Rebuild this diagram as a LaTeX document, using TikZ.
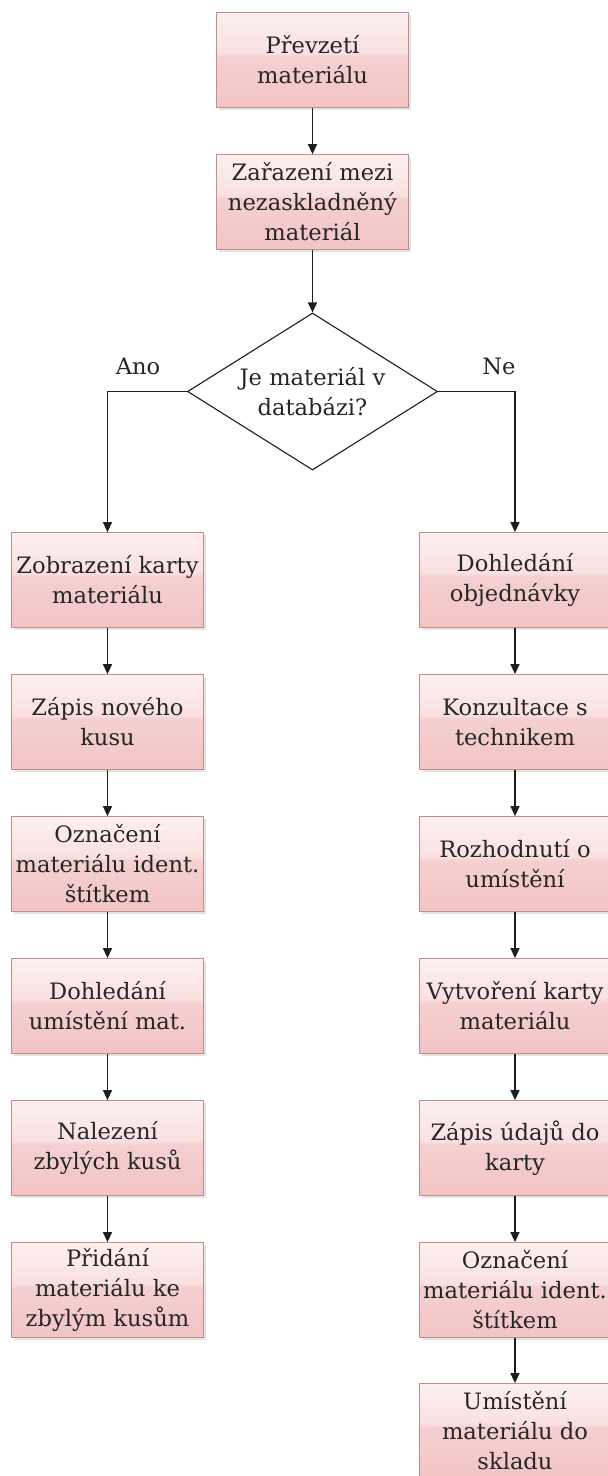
\documentclass[tikz,border=0pt]{standalone}
\usepackage{fontspec}
\setmainfont{DejaVu Serif}
\usetikzlibrary{shapes.geometric,arrows.meta,shadows}
\definecolor{boxtop}{RGB}{253,240,240}
\definecolor{boxmidA}{RGB}{249,224,224}
\definecolor{boxmidB}{RGB}{245,208,208}
\definecolor{boxbot}{RGB}{242,196,196}
\definecolor{boxline}{RGB}{196,140,138}
\definecolor{linec}{RGB}{30,30,30}
\definecolor{txt}{RGB}{38,38,38}
\pgfdeclareverticalshading{gloss}{100bp}{color(0bp)=(boxbot); color(25bp)=(boxbot); color(52bp)=(boxmidB); color(53.5bp)=(boxmidA); color(75bp)=(boxtop); color(100bp)=(boxtop)}
\begin{document}
\begin{tikzpicture}[x=1pt,y=-1pt,
  font=\fontsize{22.6}{30}\selectfont,
  procbox/.style={rectangle, draw=boxline, line width=0.8pt, shading=gloss,
    minimum width=192pt, minimum height=95pt, inner sep=0pt, align=center, text=txt,
    drop shadow={shadow xshift=2.5pt, shadow yshift=-2.5pt, opacity=0.22}},
  decbox/.style={diamond, aspect=1.6, draw=linec, line width=1.1pt, fill=white, inner sep=0pt,
    minimum width=250pt, minimum height=157pt, align=center, text=txt},
  lbl/.style={text=txt, inner sep=0pt},
  arr/.style={draw=linec, line width=1.4pt, -{Triangle[length=10pt,width=9pt]}},
  ln/.style={draw=linec, line width=1.4pt}]
\clip (0,0) rectangle (608,1476);
\fill[white] (0,0) rectangle (608,1476);
% top
\node[procbox] (t1) at (312.5,60) {Převzetí\\materiálu};
\node[procbox] (t2) at (312.5,202) {Zařazení mezi\\nezaskladněný\\materiál};
\node[decbox] (d) at (312.5,391.5) {Je materiál v\\databázi?};
% left column
\node[procbox] (l1) at (107.5,580) {Zobrazení karty\\materiálu};
\node[procbox] (l2) at (107.5,722) {Zápis nového\\kusu};
\node[procbox] (l3) at (107.5,864) {Označení\\materiálu ident.\\štítkem};
\node[procbox] (l4) at (107.5,1006) {Dohledání\\umístění mat.};
\node[procbox] (l5) at (107.5,1148) {Nalezení\\zbylých kusů};
\node[procbox] (l6) at (107.5,1290) {Přidání\\materiálu ke\\zbylým kusům};
% right column
\node[procbox] (r1) at (515,580) {Dohledání\\objednávky};
\node[procbox] (r2) at (515,722) {Konzultace s\\technikem};
\node[procbox] (r3) at (515,864) {Rozhodnutí o\\umístění};
\node[procbox] (r4) at (515,1006) {Vytvoření karty\\materiálu};
\node[procbox] (r5) at (515,1148) {Zápis údajů do\\karty};
\node[procbox] (r6) at (515,1290) {Označení\\materiálu ident.\\štítkem};
\node[procbox] (r7) at (515,1431) {Umístění\\materiálu do\\skladu};
% labels
\node[lbl] (ano) at (138,366) {Ano};
\node[lbl] (ne) at (499,366) {Ne};
% connectors
\draw[arr] (t1) -- (t2);
\draw[arr] (t2) -- (d);
\draw[arr] (d.west) -| (l1.north);
\draw[arr] (d.east) -| (r1.north);
\draw[arr] (l1) -- (l2);
\draw[arr] (l2) -- (l3);
\draw[arr] (l3) -- (l4);
\draw[arr] (l4) -- (l5);
\draw[arr] (l5) -- (l6);
\draw[arr] (r1) -- (r2);
\draw[arr] (r2) -- (r3);
\draw[arr] (r3) -- (r4);
\draw[arr] (r4) -- (r5);
\draw[arr] (r5) -- (r6);
\draw[arr] (r6) -- (r7);
\end{tikzpicture}
\end{document}
